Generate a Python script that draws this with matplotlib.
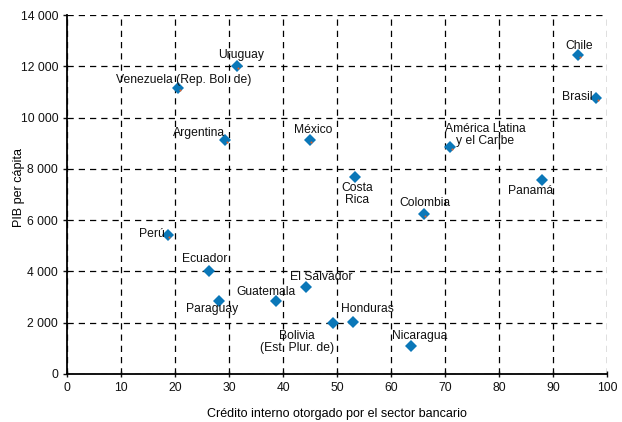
import matplotlib.pyplot as plt

plt.rcParams['font.family'] = ['Liberation Sans', 'DejaVu Sans']

# ---------------- datos ----------------
paises = ['Uruguay', 'Venezuela (Rep. Bol. de)', 'Argentina', 'México', 'Costa\nRica',
          'América Latina\ny el Caribe', 'Chile', 'Brasil', 'Panamá', 'Colombia', 'Perú',
          'Ecuador', 'Paraguay', 'Guatemala', 'El Salvador', 'Bolivia\n(Est. Plur. de)',
          'Honduras', 'Nicaragua']
credito = [31.4, 20.6, 29.3, 44.9, 53.4, 70.9, 94.6, 98.0, 87.9, 66.0, 18.6,
           26.2, 28.2, 38.6, 44.2, 49.2, 52.9, 63.7]
pib = [12000, 11150, 9120, 9120, 7680, 8850, 12440, 10760, 7570, 6240, 5420,
       4020, 2850, 2850, 3390, 1980, 2020, 1100]
# puntos con la pequeña marca naranja
con_marca = [0, 1, 2, 3, 5, 6, 7, 9, 10]

# desplazamientos de etiquetas (pixeles)
offs = [(4, 11), (5, 8), (-26, 7), (4, 10), (2, -17), (35, 12), (1, 9), (-19, 1),
        (-11, -11), (1, 11), (-16, 1), (-4, 12), (-7, -8), (-10, 9), (15, 10),
        (-36, -19), (15, 13), (9, 10)]

fig = plt.figure(figsize=(6.22, 4.22), dpi=100)
ax = fig.add_axes([0.108, 0.114, 0.868, 0.850])

ax.plot(credito, pib, 'D', color='#0a77b8', markersize=5.8, markeredgewidth=0, zorder=3)
ax.plot([credito[i] + 0.3 for i in con_marca], [pib[i] - 60 for i in con_marca], 'o',
        color='#e0602a', markersize=1.5, markeredgewidth=0, zorder=4)

for p, x, y, o in zip(paises, credito, pib, offs):
    ax.annotate(p, (x, y), xytext=o, textcoords='offset pixels', ha='center', va='center',
                fontsize=8.7, color='#111111', linespacing=1.05, zorder=5)

ax.set_xlim(0, 100)
ax.set_ylim(0, 14000)
ax.set_xticks(range(0, 101, 10))
ax.set_yticks(range(0, 14001, 2000))
ax.set_yticklabels([f'{v:,}'.replace(',', ' ') for v in range(0, 14001, 2000)])
ax.grid(True, color='black', linestyle=(0, (5, 4)), linewidth=0.9)
ax.set_axisbelow(True)
for s in ['top', 'right']:
    ax.spines[s].set_visible(False)
for s in ['left', 'bottom']:
    ax.spines[s].set_linewidth(1.3)
ax.tick_params(labelsize=8.7, length=3, width=1, colors='#111111')
ax.tick_params(axis='x', direction='inout', length=5)

ax.set_xlabel('Crédito interno otorgado por el sector bancario', fontsize=9, labelpad=10)
ax.set_ylabel('PIB per cápita', fontsize=9)
ax.yaxis.set_label_coords(-0.078, 0.52)

fig.savefig('out.png', dpi=100)
